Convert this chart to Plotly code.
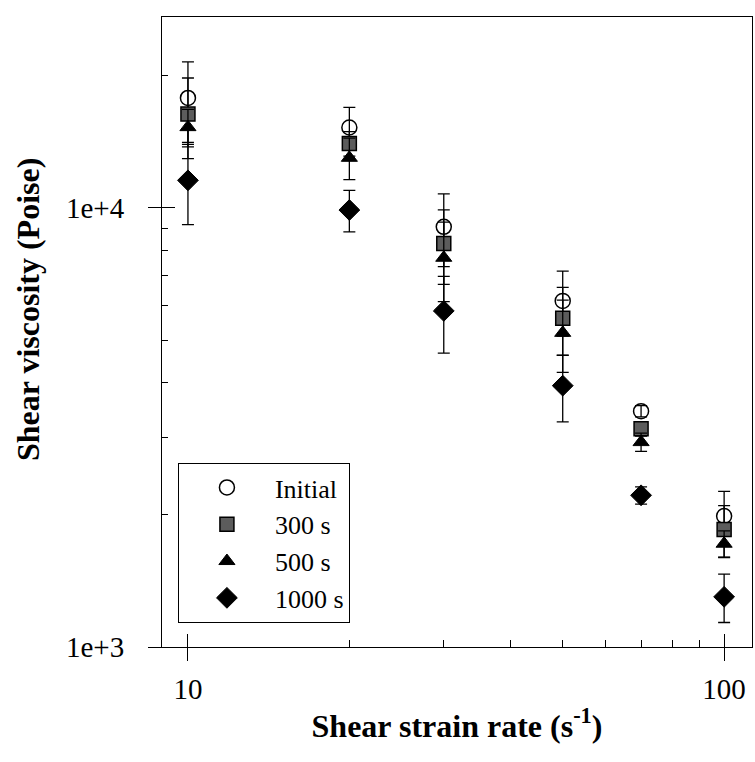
import plotly.graph_objects as go

# Data
shear_rate = [10, 20, 30, 50, 70, 100]

initial = [17810, 15250, 9060, 6143, 3445, 1987]
initial_err = [3700, 1700, 1710, 1034, 100, 276]

s300 = [16360, 14030, 8296, 5607, 3142, 1851]
s300_err = [3410, 900, 1600, 987, 120, 249]

s500 = [15280, 13010, 7702, 5195, 2929, 1719]
s500_err = [1500, 1410, 1580, 975, 140, 120]

s1000 = [11560, 9894, 5828, 3938, 2216, 1301]
s1000_err = [2400, 1073, 1155, 680, 100, 164]

series_names = ["Initial", "300 s", "500 s", "1000 s"]
x_tick_vals = [10, 100]
x_tick_text = ["10", "100"]
y_tick_vals = [1000, 10000]
y_tick_text = ["1e+3", "1e+4"]
x_minor = [20, 30, 40, 50, 60, 70, 80, 90]
y_minor = [2000, 3000, 4000, 5000, 6000, 7000, 8000, 9000, 20000]

FONT = "Liberation Serif, Times New Roman, serif"

styles = [
    dict(symbol="circle-open", size=15, color="black", line=dict(color="black", width=1.5)),
    dict(symbol="square", size=14, color="#5c5c5c", line=dict(color="black", width=1.5)),
    dict(symbol="triangle-up", size=14, color="black", line=dict(color="black", width=1)),
    dict(symbol="diamond", size=16, color="black", line=dict(color="black", width=1)),
]
values = [initial, s300, s500, s1000]
errors = [initial_err, s300_err, s500_err, s1000_err]

fig = go.Figure()
for name, vals, errs, st in zip(series_names, values, errors, styles):
    fig.add_trace(go.Scatter(
        x=shear_rate, y=vals, name=name, mode="markers",
        marker=st,
        error_y=dict(type="data", array=errs, visible=True, color="black",
                     thickness=1.3, width=6),
    ))

# invisible helper trace so overlay axes (inner half of major ticks) are drawn
fig.add_trace(go.Scatter(x=[shear_rate[0]], y=[initial[0]], xaxis="x2", yaxis="y2",
                         mode="markers", marker=dict(opacity=0), showlegend=False,
                         hoverinfo="skip"))

xr = [0.9516, 2.052]
yr = [3.0, 4.435]

fig.update_layout(
    width=755, height=762,
    margin=dict(l=162, r=3, t=17, b=115),
    paper_bgcolor="white", plot_bgcolor="white",
    font=dict(family=FONT, color="black", size=26),
    showlegend=True,
    legend=dict(
        x=0.027, y=0.292, xanchor="left", yanchor="top",
        bordercolor="black", borderwidth=1, bgcolor="white",
        font=dict(family=FONT, size=26), itemwidth=86,
        tracegroupgap=0,
    ),
    xaxis=dict(
        type="log", range=xr, showgrid=False, zeroline=False,
        showline=True, linecolor="black", linewidth=1, mirror=True,
        tickvals=x_tick_vals, ticktext=x_tick_text, tickfont=dict(size=29),
        ticks="outside", ticklen=13, tickcolor="black", tickwidth=1,
        ticklabelstandoff=3,
        minor=dict(tickvals=x_minor, ticks="inside", ticklen=7, tickcolor="black", showgrid=False),
        title=dict(text="<b>Shear strain rate (s<sup>-1</sup>)</b>", font=dict(family=FONT, size=32), standoff=10),
    ),
    yaxis=dict(
        type="log", range=yr, showgrid=False, zeroline=False,
        showline=True, linecolor="black", linewidth=1, mirror=True,
        tickvals=y_tick_vals, ticktext=y_tick_text, tickfont=dict(size=29),
        ticks="outside", ticklen=13, tickcolor="black", tickwidth=1,
        ticklabelstandoff=18,
        minor=dict(tickvals=y_minor, ticks="inside", ticklen=6, tickcolor="black", showgrid=False),
    ),
    xaxis2=dict(
        type="log", range=xr, overlaying="x", anchor="y2", side="bottom",
        showgrid=False, zeroline=False, showline=False, showticklabels=False,
        tickvals=x_tick_vals, ticks="inside", ticklen=13, tickcolor="black",
    ),
    yaxis2=dict(
        type="log", range=yr, overlaying="y", anchor="x2", side="left",
        showgrid=False, zeroline=False, showline=False, showticklabels=False,
        tickvals=y_tick_vals, ticks="inside", ticklen=13, tickcolor="black",
    ),
    annotations=[dict(
        text="<b>Shear viscosity (Poise)</b>", textangle=-90,
        xref="paper", yref="paper", x=-0.227, y=0.535,
        xanchor="center", yanchor="middle", showarrow=False,
        font=dict(family=FONT, size=32, color="black"),
    )],
)

fig.write_html("out.html")
